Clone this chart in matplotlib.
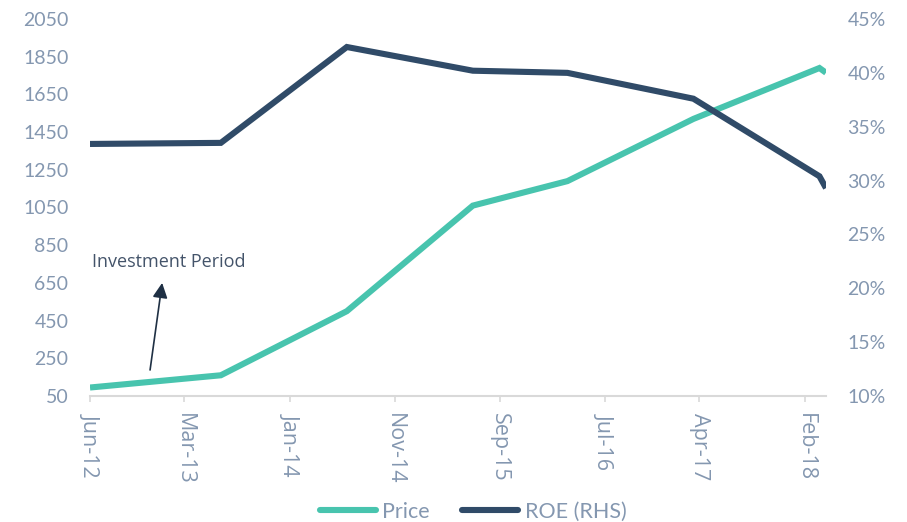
import matplotlib
matplotlib.use("Agg")
import matplotlib.pyplot as plt
import matplotlib.dates as mdates
from matplotlib.ticker import FuncFormatter
import pandas as pd

# Observation dates and series
dates = ["2012-06-01", "2013-06-15", "2014-06-15", "2015-06-15",
         "2016-03-15", "2017-03-15", "2018-03-15", "2018-04-03"]
price = [95, 160, 500, 1060, 1190, 1520, 1790, 1765]
roe_pct = [33.4, 33.5, 42.4, 40.2, 40.0, 37.6, 30.4, 29.3]

# Axis ticks
tick_dates = ["2012-06-01", "2013-03-01", "2014-01-01", "2014-11-01",
              "2015-09-01", "2016-07-01", "2017-04-01", "2018-02-01"]
price_ticks = list(range(50, 2051, 200))
roe_ticks = [10, 15, 20, 25, 30, 35, 40, 45]

# Annotation
note_text = "Investment Period"
note_pos = ("2012-06-07", 761)
arrow_tail = ("2012-11-22", 188)
arrow_tip = ("2012-12-27", 650)

x = pd.to_datetime(dates)

teal = "#48C4AE"
navy = "#304B68"
tick_col = "#8497B0"
axis_col = "#D9D9D9"
font = "Lato"

fig = plt.figure(figsize=(9.07, 5.22), dpi=100)
ax = fig.add_axes([90 / 907, 1 - 396 / 522, 736 / 907, 377 / 522])
ax2 = ax.twinx()

l1, = ax.plot(x, price, color=teal, lw=4.4, solid_joinstyle="miter",
              solid_capstyle="butt", label="Price")
l2, = ax2.plot(x, roe_pct, color=navy, lw=4.4, solid_joinstyle="miter",
               solid_capstyle="butt", label="ROE (RHS)")

ax.set_xlim(x[0], x[-1])
ax.set_ylim(50, 2050)
ax2.set_ylim(10, 45)

ax.set_yticks(price_ticks)
ax2.set_yticks(roe_ticks)
ax2.yaxis.set_major_formatter(FuncFormatter(lambda v, p: f"{v:.0f}%"))

ax.set_xticks(pd.to_datetime(tick_dates))
ax.xaxis.set_major_formatter(mdates.DateFormatter("%b-%y"))

for a in (ax, ax2):
    for s in a.spines.values():
        s.set_visible(False)
ax.spines["bottom"].set_visible(True)
ax.spines["bottom"].set_color(axis_col)
ax.spines["bottom"].set_linewidth(1.5)

ax.tick_params(axis="x", direction="out", length=4, width=1.2, color=axis_col,
               pad=8, labelcolor=tick_col, labelsize=15.5, labelrotation=-90)
for t in ax.get_xticklabels():
    t.set_fontfamily("Open Sans")
    t.set_va("top")
    t.set_ha("center")
ax.tick_params(axis="y", length=0, pad=15.5, labelcolor=tick_col, labelsize=14)
ax2.tick_params(axis="y", length=0, pad=15.5, labelcolor=tick_col, labelsize=14)
for t in ax.get_yticklabels() + ax2.get_yticklabels():
    t.set_fontfamily(font)

ax.text(pd.to_datetime(note_pos[0]), note_pos[1], note_text, ha="left", va="center",
        fontsize=13, color="#44546A", family="Open Sans")
ax.annotate("", xy=(pd.to_datetime(arrow_tip[0]), arrow_tip[1]),
            xytext=(pd.to_datetime(arrow_tail[0]), arrow_tail[1]),
            arrowprops=dict(arrowstyle="-|>,head_length=0.9,head_width=0.45",
                            color="#1F3044", lw=1.2, shrinkA=0, shrinkB=0))

leg = fig.legend(handles=[l1, l2], loc="center", bbox_to_anchor=(473 / 907, 1 - 512 / 522),
                 ncol=2, frameon=False, handlelength=2.6, handletextpad=0.3,
                 columnspacing=1.5, prop={"family": font, "size": 15.5})
for t in leg.get_texts():
    t.set_color(tick_col)
for h in leg.get_lines():
    h.set_linewidth(4.4)
    h.set_solid_capstyle("round")

fig.savefig("out.png", dpi=100)
